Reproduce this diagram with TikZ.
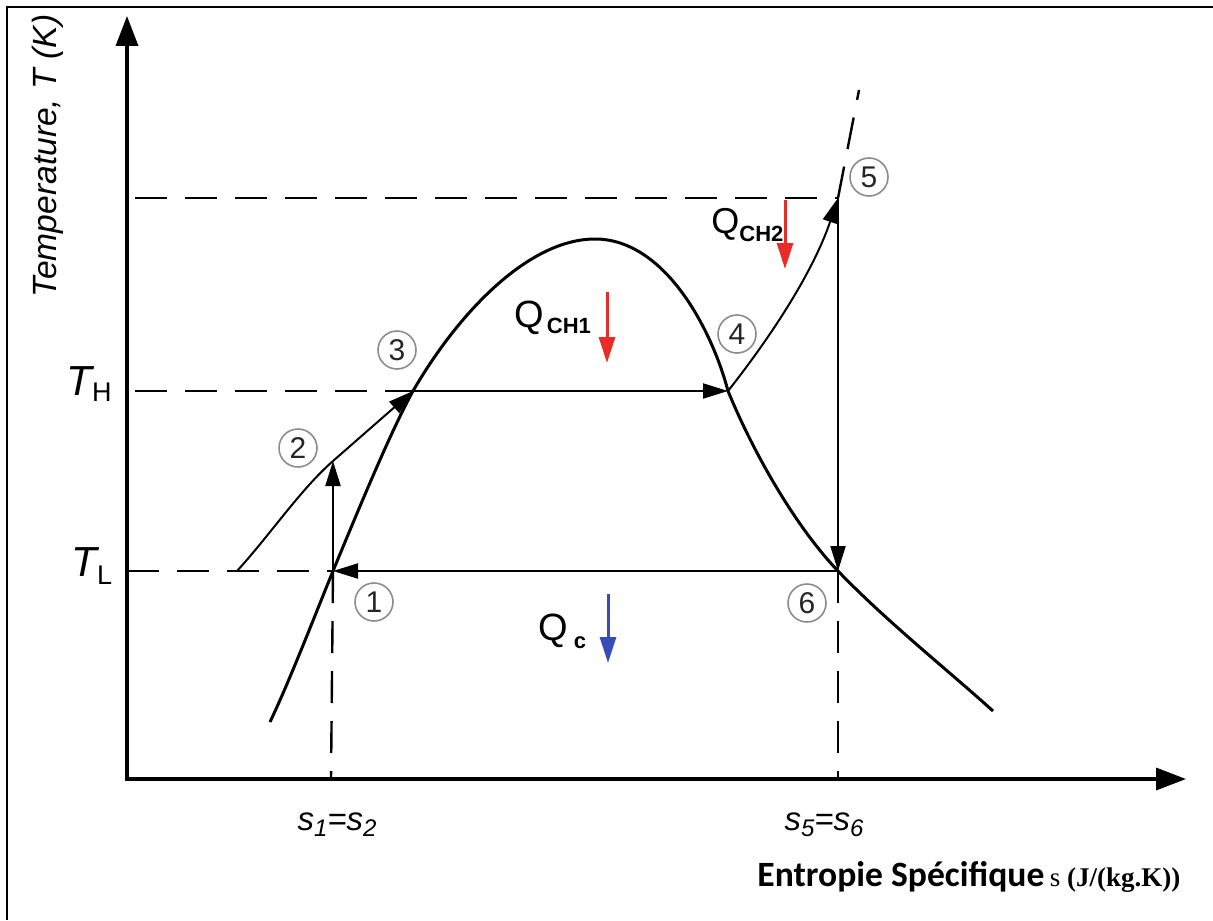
\documentclass[tikz,border=0pt]{standalone}
\usepackage{fontspec}
\setmainfont{Liberation Sans}
\newfontfamily\carlito{Carlito}
\newfontfamily\serifrm{Liberation Serif}
\usetikzlibrary{arrows.meta}
\definecolor{heatred}{RGB}{232,45,40}
\definecolor{coldblue}{RGB}{55,75,185}
\newcommand\fs[1]{\fontsize{#1}{#1}\selectfont}
\newcommand\lowsub[2]{\raisebox{-#1}{#2}}
\tikzset{
  axisline/.style={line width=1.75pt,-{Triangle[length=15pt,width=11pt]}},
  domeline/.style={line width=1.5pt},
  thinline/.style={line width=1pt},
  flowarrow/.style={line width=1pt,-{Triangle[length=12.5pt,width=7.5pt]}},
  guide/.style={line width=1.2pt,dash pattern=on 16pt off 9pt},
  heatarrow/.style={line width=1.5pt,-{Triangle[length=13pt,width=8pt]}},
  statemark/.style={circle,draw=black!45,line width=0.8pt,minimum size=19pt,inner sep=0pt,font=\fs{15}, text=black!85},
  lbl/.style={inner sep=0pt,anchor=base west}
}
\begin{document}
\begin{tikzpicture}[x=0.5pt,y=-0.5pt]
\useasboundingbox (0,0) rectangle (1213,920);
% frame
\draw[line width=1pt] (7,920) -- (7,7) -- (1213,7);
% axes
\coordinate (O) at (127,779);
\coordinate (ytip) at (127,16);
\coordinate (xtip) at (1186,779);
\draw[axisline] (127,781) -- (ytip);
\draw[axisline] (125,779) -- (xtip);
% state points
\coordinate (p1) at (333,571);
\coordinate (p2) at (333,461);
\coordinate (p3) at (413,391);
\coordinate (p4) at (728,391);
\coordinate (p5) at (838,198);
\coordinate (p6) at (838,571);
\coordinate (q0) at (237,571);
\coordinate (p5x) at (859,90);
\coordinate (s12) at (331,779);
\coordinate (s56) at (838,779);
\coordinate (tl0) at (127,571);
\coordinate (th0) at (135,391);
\coordinate (t50) at (135,198);
\coordinate (peak) at (595,239);
\coordinate (dL) at (270,722);
\coordinate (dR) at (993,711);
% guides
\draw[guide] (th0) -- (p3);
\draw[guide] (t50) -- (p5);
\draw[guide] (tl0) -- (p1);
\draw[guide] (p1) -- (s12);
\draw[guide] (p6) -- (s56);
\draw[guide] (p5) -- (p5x);
% saturation dome
\draw[domeline] (dL) .. controls (290,680) and (315,615) .. (p1)
  .. controls (362,501) and (391,431) .. (p3)
  .. controls (460,310) and (530,239) .. (peak)
  .. controls (665,239) and (712,330) .. (p4)
  .. controls (753,452) and (795,526) .. (p6)
  .. controls (886,621) and (950,672) .. (dR);
% cycle
\draw[thinline] (q0) .. controls (270,535) and (300,490) .. (p2);
\draw[flowarrow] (p2) -- (p3);
\draw[flowarrow] (p1) -- (p2);
\draw[flowarrow] (p3) -- (p4);
\draw[flowarrow] (p4) .. controls (780,325) and (816,264) .. (p5);
\draw[flowarrow] (p5) -- (p6);
\draw[flowarrow] (p6) -- (p1);
% state markers
\node[statemark] (c1) at (374,602) {1};
\node[statemark] (c2) at (298,448) {2};
\node[statemark] (c3) at (397,350) {3};
\node[statemark] (c4) at (737,334) {4};
\node[statemark] (c5) at (869,177) {5};
\node[statemark] (c6) at (807,603) {6};
% heat labels
\node[lbl] (qch1) at (514,327) {\fs{19}Q\hspace{1.5pt}\lowsub{3pt}{\fs{11}\bfseries CH1}};
\node[lbl] (qch2) at (711,233) {\fs{18}Q\lowsub{4pt}{\fs{11}\bfseries CH2}};
\node[lbl] (qc) at (538,640) {\fs{19}Q\hspace{3pt}\lowsub{4pt}{\fs{11}\bfseries c}};
\coordinate (h1a) at (607,292); \coordinate (h1b) at (607,363);
\coordinate (h2a) at (785,200); \coordinate (h2b) at (785,269);
\coordinate (hca) at (608,594); \coordinate (hcb) at (608,663);
\draw[heatarrow,heatred] (h1a) -- (h1b);
\draw[heatarrow,heatred] (h2a) -- (h2b);
\draw[heatarrow,coldblue] (hca) -- (hcb);
% axis labels
\node[rotate=90,inner sep=0pt,font=\fs{16.8}\itshape] (ylab) at (48,156) {Temperature, T (K)};
\node[lbl] (TH) at (66,395) {\fs{21}\itshape T\upshape\lowsub{3pt}{\fs{13.5}H}};
\node[lbl] (TL) at (71,576) {\fs{21}\itshape T\upshape\lowsub{4pt}{\fs{13.5}L}};
\node[inner sep=0pt,anchor=base] (s12l) at (337,830) {\fs{16.5}\itshape s\lowsub{3pt}{\fs{12}1}=s\lowsub{3pt}{\fs{12}2}};
\node[inner sep=0pt,anchor=base] (s56l) at (824,830) {\fs{16.5}\itshape s\lowsub{3pt}{\fs{12}5}=s\lowsub{3pt}{\fs{12}6}};
\node[lbl] (xlab) at (757,886) {{\carlito\bfseries\fs{17.8}Entropie Spécifique} {\serifrm\fs{13.5}s \bfseries(J/(kg.K))}};
\end{tikzpicture}
\end{document}
